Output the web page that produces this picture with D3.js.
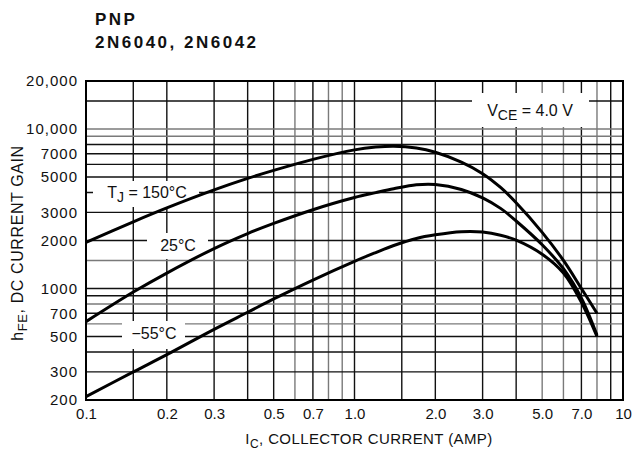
<!DOCTYPE html>
<html>
<head>
<meta charset="utf-8">
<script src="https://cdn.jsdelivr.net/npm/d3@7"></script>
<style>
  body { margin: 0; background: #fff; }
  svg text { font-family: "Liberation Sans", Arial, sans-serif; fill: #111; }
</style>
</head>
<body>
<div id="chart"></div>
<script>
// collector current (A) and DC current gain for each junction temperature
var current = [0.1, 0.15, 0.2, 0.3, 0.4, 0.5, 0.7, 1.0, 1.2, 1.4, 1.7, 2.0, 2.5, 3.0, 3.5, 4.0, 5.0, 6.0, 7.0, 8.0];
var gain150 = [1950, 2620, 3200, 4150, 4900, 5500, 6450, 7400, 7700, 7800, 7600, 7150, 6200, 5250, 4300, 3450, 2250, 1500, 1000, 700];
var gain25  = [620, 950, 1250, 1780, 2210, 2560, 3120, 3720, 3990, 4220, 4470, 4490, 4180, 3700, 3180, 2650, 1880, 1330, 870, 510];
var gainM55 = [210, 300, 385, 555, 710, 860, 1130, 1480, 1680, 1860, 2060, 2170, 2270, 2260, 2160, 2010, 1640, 1250, 820, 500];

var xTicks = [0.1, 0.2, 0.3, 0.5, 0.7, 1, 2, 3, 5, 7, 10];
var xTickLabels = ["0.1", "0.2", "0.3", "0.5", "0.7", "1.0", "2.0", "3.0", "5.0", "7.0", "10"];
var yTicks = [200, 300, 500, 700, 1000, 2000, 3000, 5000, 7000, 10000, 20000];
var yTickLabels = ["200", "300", "500", "700", "1000", "2000", "3000", "5000", "7000", "10,000", "20,000"];

var xGrid = [0.15, 0.2, 0.3, 0.4, 0.5, 0.6, 0.7, 0.8, 0.9, 1, 1.5, 2, 3, 4, 5, 6, 7, 8, 9];
var xGridGrey = [0.6, 0.8, 0.9, 5, 6, 8];
var yGrid = [300, 400, 500, 600, 700, 800, 900, 1000, 1500, 2000, 3000, 4000, 5000, 6000, 7000, 8000, 9000, 10000, 15000];
var yGridGrey = [600, 800, 1500, 9000, 10000];

var W = 635, H = 452;
var plotL = 86, plotR = 623, plotT = 81, plotB = 400;

var svg = d3.select("#chart").append("svg")
    .attr("width", W).attr("height", H);

var x = d3.scaleLog().domain([0.1, 10]).range([plotL, plotR]);
var y = d3.scaleLog().domain([200, 20000]).range([plotB, plotT]);

// titles
svg.append("text").attr("x", 95).attr("y", 25)
    .style("font-size", "17px").style("font-weight", "bold").style("letter-spacing", "2.5px")
    .text("PNP");
svg.append("text").attr("x", 95).attr("y", 48)
    .style("font-size", "17px").style("font-weight", "bold").style("letter-spacing", "2.5px")
    .text("2N6040, 2N6042");

// grid
var grid = svg.append("g");
grid.selectAll(".vx").data(xGrid).enter().append("line")
    .attr("x1", function (d) { return x(d); })
    .attr("x2", function (d) { return x(d); })
    .attr("y1", plotT).attr("y2", plotB)
    .style("stroke", function (d) { return xGridGrey.indexOf(d) >= 0 ? "#7a7a7a" : "#111"; })
    .style("stroke-width", 1.4);
grid.selectAll(".hy").data(yGrid).enter().append("line")
    .attr("y1", function (d) { return y(d); })
    .attr("y2", function (d) { return y(d); })
    .attr("x1", plotL).attr("x2", plotR)
    .style("stroke", function (d) { return yGridGrey.indexOf(d) >= 0 ? "#7a7a7a" : "#111"; })
    .style("stroke-width", 1.4);

// white boxes behind the in-plot labels
var boxes = [
    {x: 472, y: 93, w: 117, h: 34},
    {x: 93, y: 181, w: 106, h: 26},
    {x: 147, y: 233, w: 61, h: 26},
    {x: 122, y: 321, w: 63, h: 28}
];
svg.selectAll(".box").data(boxes).enter().append("rect")
    .attr("x", function (d) { return d.x; }).attr("y", function (d) { return d.y; })
    .attr("width", function (d) { return d.w; }).attr("height", function (d) { return d.h; })
    .style("fill", "#fff");

// curves
var line = d3.line()
    .x(function (d) { return x(d[0]); })
    .y(function (d) { return y(d[1]); })
    .curve(d3.curveCatmullRom.alpha(0.5));

[gain150, gain25, gainM55].forEach(function (g) {
    svg.append("path")
        .attr("d", line(d3.zip(current, g)))
        .style("fill", "none")
        .style("stroke", "#000")
        .style("stroke-width", 3);
});

// frame
svg.append("rect")
    .attr("x", plotL).attr("y", plotT)
    .attr("width", plotR - plotL).attr("height", plotB - plotT)
    .style("fill", "none").style("stroke", "#000").style("stroke-width", 2);

// axes (labels only)
var xAxis = svg.append("g").attr("transform", "translate(0," + plotB + ")")
    .call(d3.axisBottom(x).tickValues(xTicks).tickSize(0).tickPadding(8)
        .tickFormat(function (d, i) { return xTickLabels[i]; }));
var yAxis = svg.append("g").attr("transform", "translate(" + plotL + ",0)")
    .call(d3.axisLeft(y).tickValues(yTicks).tickSize(0).tickPadding(8)
        .tickFormat(function (d, i) { return yTickLabels[i]; }));
[xAxis, yAxis].forEach(function (a) {
    a.select(".domain").remove();
    a.selectAll("text")
        .style("font-family", '"Liberation Sans", Arial, sans-serif')
        .style("font-size", "15px")
        .style("fill", "#111");
});
yAxis.selectAll("text").style("letter-spacing", "1px");

// axis titles
var xt = svg.append("text").attr("x", 369).attr("y", 444)
    .attr("text-anchor", "middle").style("font-size", "15px").style("letter-spacing", "0.4px");
xt.append("tspan").text("I");
xt.append("tspan").attr("dy", 4).style("font-size", "12px").text("C");
xt.append("tspan").attr("dy", -4).text(", COLLECTOR CURRENT (AMP)");

var yt = svg.append("text").attr("transform", "translate(23,243) rotate(-90)")
    .attr("text-anchor", "middle").style("font-size", "16px").style("letter-spacing", "0.6px");
yt.append("tspan").text("h");
yt.append("tspan").attr("dy", 4).style("font-size", "13px").text("FE");
yt.append("tspan").attr("dy", -4).text(", DC CURRENT GAIN");

// in-plot annotations
var vce = svg.append("text").attr("x", 530).attr("y", 116).attr("text-anchor", "middle")
    .style("font-size", "16px");
vce.append("tspan").text("V");
vce.append("tspan").attr("dy", 4).style("font-size", "14px").text("CE");
vce.append("tspan").attr("dy", -4).text(" = 4.0 V");

var tj = svg.append("text").attr("x", 147).attr("y", 198).attr("text-anchor", "middle")
    .style("font-size", "16px");
tj.append("tspan").text("T");
tj.append("tspan").attr("dy", 4).style("font-size", "14px").text("J");
tj.append("tspan").attr("dy", -4).text(" = 150°C");

svg.append("text").attr("x", 178).attr("y", 251).attr("text-anchor", "middle")
    .style("font-size", "16px").text("25°C");
svg.append("text").attr("x", 154).attr("y", 339).attr("text-anchor", "middle")
    .style("font-size", "16px").text("\u221255°C");
</script>
</body>
</html>
